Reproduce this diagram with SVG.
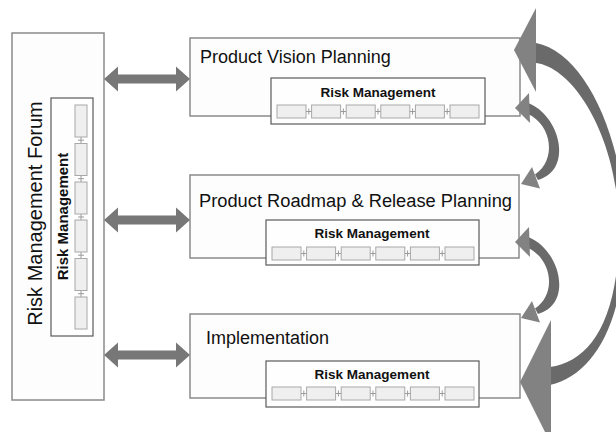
<svg xmlns="http://www.w3.org/2000/svg" width="616" height="432" viewBox="0 0 616 432">
<style>
.box{fill:#fdfdfd;stroke:#8a8a8a;stroke-width:1.5}
.inner{fill:#fefefe;stroke:#5a5a5a;stroke-width:1.2}
.cell{fill:#efefef;stroke:#a8a8a8;stroke-width:1}
.link{stroke:#9a9a9a;stroke-width:1;fill:none}
.title{font-family:"Liberation Sans",Arial,sans-serif;font-size:18px;fill:#111}
.rm{font-family:"Liberation Sans",Arial,sans-serif;font-size:13.5px;font-weight:bold;fill:#111;text-anchor:middle}
.arr{fill:#777}
.head{fill:#828282}
.body{fill:#6a6a6a}
</style>
<defs>
<g id="row">
<line class="link" x1="0" y1="6.5" x2="202" y2="6.5"/>
<rect class="cell" x="0" y="0" width="29" height="13"/>
<rect class="cell" x="34.6" y="0" width="29" height="13"/>
<rect class="cell" x="69.2" y="0" width="29" height="13"/>
<rect class="cell" x="103.8" y="0" width="29" height="13"/>
<rect class="cell" x="138.4" y="0" width="29" height="13"/>
<rect class="cell" x="173" y="0" width="29" height="13"/>
<line class="link" x1="31.8" y1="3.5" x2="31.8" y2="9.5"/>
<line class="link" x1="66.4" y1="3.5" x2="66.4" y2="9.5"/>
<line class="link" x1="101" y1="3.5" x2="101" y2="9.5"/>
<line class="link" x1="135.6" y1="3.5" x2="135.6" y2="9.5"/>
<line class="link" x1="170.2" y1="3.5" x2="170.2" y2="9.5"/>
</g>
<polygon id="dbl" points="0,0 14,-12.5 14,-4.5 72,-4.5 72,-12.5 86,0 72,12.5 72,4.5 14,4.5 14,12.5"/>
<g id="small">
<path class="body" d="M528,103 C560,115 574,170 538,180 L535,174.5 C557,160 552,125 528,114 Z"/>
<polygon class="head" points="529,93 515,108 530,123"/>
<polygon class="head" points="532,167 521,184 540,188.5"/>
</g>
</defs>

<g id="forum">
<rect class="box" x="12" y="33" width="92" height="367"/>
<text class="title" style="font-size:20px" transform="translate(42,213.5) rotate(-90)" text-anchor="middle">Risk Management Forum</text>
<rect class="inner" x="51" y="98" width="42" height="238"/>
<text class="rm" style="font-size:15px" transform="translate(68,216.5) rotate(-90)">Risk Management</text>
<line class="link" x1="81" y1="105" x2="81" y2="329"/>
<rect class="cell" x="75" y="105" width="12" height="32"/>
<rect class="cell" x="75" y="143.5" width="12" height="32"/>
<rect class="cell" x="75" y="182" width="12" height="32"/>
<rect class="cell" x="75" y="220" width="12" height="32"/>
<rect class="cell" x="75" y="258.5" width="12" height="32"/>
<rect class="cell" x="75" y="297" width="12" height="32"/>
<line class="link" x1="78" y1="140.2" x2="84" y2="140.2"/>
<line class="link" x1="78" y1="178.7" x2="84" y2="178.7"/>
<line class="link" x1="78" y1="217" x2="84" y2="217"/>
<line class="link" x1="78" y1="255.2" x2="84" y2="255.2"/>
<line class="link" x1="78" y1="293.7" x2="84" y2="293.7"/>
</g>

<g id="vision">
<rect class="box" x="190" y="38" width="330" height="78"/>
<text class="title" x="200" y="63">Product Vision Planning</text>
<rect class="inner" x="271" y="78" width="214" height="46"/>
<text class="rm" x="378" y="97">Risk Management</text>
<use href="#row" x="277" y="105"/>
</g>

<g id="roadmap">
<rect class="box" x="190" y="175" width="329" height="83"/>
<text class="title" x="199" y="207" textLength="313" lengthAdjust="spacingAndGlyphs">Product Roadmap &amp; Release Planning</text>
<rect class="inner" x="266" y="220" width="213" height="45"/>
<text class="rm" x="372" y="238">Risk Management</text>
<use href="#row" x="272" y="247"/>
</g>

<g id="implementation">
<rect class="box" x="190" y="314" width="330" height="84"/>
<text class="title" x="206" y="344">Implementation</text>
<rect class="inner" x="266" y="361" width="213" height="46"/>
<text class="rm" x="372" y="379">Risk Management</text>
<use href="#row" x="272" y="387"/>
</g>

<g id="connectors">
<use href="#dbl" class="arr" x="104" y="79"/>
<use href="#dbl" class="arr" x="104" y="220"/>
<use href="#dbl" class="arr" x="104" y="355"/>
<use href="#small"/>
<use href="#small" y="134"/>
<path class="body" d="M536,43 C585,52 625,140 625,230 C625,320 595,375 550,385 L550,367 C590,362 619,320 619,230 C619,140 575,68 536,63 Z"/>
<polygon class="head" points="536,8 514,50 536,92"/>
<polygon class="head" points="551,320 520,382 551,444"/>
</g>
</svg>
